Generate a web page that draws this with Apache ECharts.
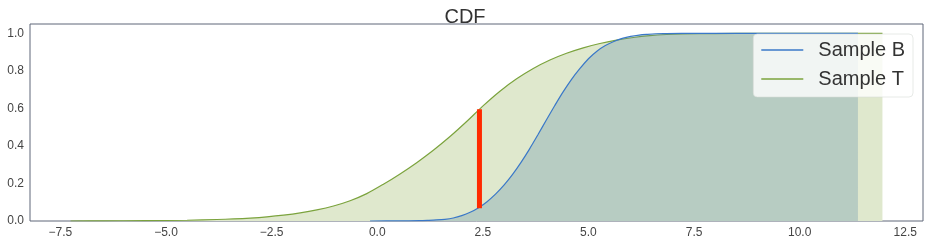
<!DOCTYPE html>
<html>
<head>
<meta charset="utf-8">
<script src="https://cdn.jsdelivr.net/npm/echarts@6/dist/echarts.min.js"></script>
<style>html,body{margin:0;padding:0;background:#fff}#c{width:930px;height:246px}</style>
</head>
<body>
<div id="c"></div>
<script>
// Sample T CDF (x, y)
const sampleT_x = [-7.26,-6.5,-5.5,-4.5,-3.8,-3.4,-3.006,-2.612,-2.218,-1.824,-1.43,-1.036,-0.642,-0.248,0.146,0.54,0.934,1.328,1.723,2.117,2.511,2.905,3.3,3.694,4.088,4.482,4.877,5.271,5.665,6.06,6.454,6.848,7.24,8.0,9.0,11.96];
const sampleT_y = [0.0,0.001,0.002,0.004,0.008,0.011,0.0155,0.022,0.031,0.043,0.059,0.080,0.108,0.146,0.196,0.251,0.311,0.377,0.450,0.530,0.615,0.692,0.758,0.813,0.858,0.894,0.923,0.946,0.964,0.978,0.988,0.994,0.997,0.999,1.0,1.0];
// Sample B CDF (x, y)
const sampleB_x = [-0.17,0.5,1.0,1.2,1.4,1.6,1.8,2.0,2.2,2.4,2.6,2.8,3.0,3.2,3.4,3.6,3.8,4.0,4.2,4.4,4.6,4.8,5.0,5.2,5.4,5.6,5.8,6.0,6.2,6.4,6.6,6.8,7.2,11.38];
const sampleB_y = [0.0,0.0005,0.002,0.0035,0.0055,0.009,0.016,0.0285,0.0465,0.071,0.103,0.143,0.191,0.247,0.311,0.382,0.458,0.537,0.614,0.688,0.755,0.813,0.865,0.905,0.935,0.957,0.973,0.984,0.991,0.995,0.998,0.999,1.0,1.0];
// KS statistic marker
const ksX = 2.42;
const ksLow = 0.068;
const ksHigh = 0.596;
// ticks
const xTicks = [-7.5,-5.0,-2.5,0.0,2.5,5.0,7.5,10.0,12.5];
const yTicks = [0.0,0.2,0.4,0.6,0.8,1.0];
const seriesNames = ['Sample B','Sample T'];
const titleText = 'CDF';

const FONT = '"Liberation Sans", Arial, sans-serif';
const zip = (xs, ys) => xs.map((x, i) => [x, ys[i]]);

const chart = echarts.init(document.getElementById('c'), null, {renderer: 'canvas'});
chart.setOption({
  animation: false,
  backgroundColor: '#ffffff',
  title: {
    text: titleText, left: 'center', top: 2,
    textStyle: {fontFamily: FONT, fontSize: 20, fontWeight: 'normal', color: '#333333'}
  },
  grid: {
    left: 30, right: 7, top: 24, bottom: 25,
    show: true, borderColor: '#5f6778', borderWidth: 1, backgroundColor: 'transparent'
  },
  legend: {
    orient: 'vertical', right: 17, top: 34,
    padding: [6, 8, 8, 8], itemGap: 9,
    itemWidth: 42, itemHeight: 1.5, icon: 'rect',
    backgroundColor: 'rgba(255,255,255,0.8)', borderColor: 'rgba(215,220,215,0.6)', borderWidth: 1, borderRadius: 4,
    textStyle: {fontFamily: FONT, fontSize: 20, color: '#333333', lineHeight: 20, padding: [0, 0, 0, 10]},
    data: [
      {name: seriesNames[0], itemStyle: {color: '#3a78c8'}},
      {name: seriesNames[1], itemStyle: {color: '#7ba33d'}}
    ]
  },
  xAxis: {
    type: 'value', min: -8.22, max: 12.92,
    axisLine: {show: false}, axisTick: {show: false}, splitLine: {show: false},
    axisLabel: {
      customValues: xTicks, margin: 6,
      fontFamily: FONT, fontSize: 12, color: '#444444',
      formatter: v => v.toFixed(1).replace('-', '\u2212')
    }
  },
  yAxis: {
    type: 'value', min: 0, max: 1.05,
    axisLine: {show: false}, axisTick: {show: false}, splitLine: {show: false},
    axisLabel: {
      customValues: yTicks, margin: 6,
      fontFamily: FONT, fontSize: 12, color: '#444444',
      formatter: v => v.toFixed(1)
    }
  },
  series: [
    {
      name: seriesNames[1], type: 'line', data: zip(sampleT_x, sampleT_y),
      symbol: 'none', smooth: 0.3,
      lineStyle: {color: '#7ba33d', width: 1.2},
      itemStyle: {color: '#7ba33d'},
      areaStyle: {color: '#dfe8cd', opacity: 1},
      z: 2
    },
    {
      name: seriesNames[0], type: 'line', data: zip(sampleB_x, sampleB_y),
      symbol: 'none', smooth: 0.3,
      lineStyle: {color: '#3a78c8', width: 1.2},
      itemStyle: {color: '#3a78c8'},
      areaStyle: {color: 'rgba(93,139,168,0.3)', opacity: 1},
      z: 3
    },
    {
      name: 'KS', type: 'line', data: [[ksX, ksLow], [ksX, ksHigh]],
      symbol: 'none', lineStyle: {color: '#ff2a00', width: 5, cap: 'butt'},
      z: 5, silent: true
    }
  ]
});
</script>
</body>
</html>
